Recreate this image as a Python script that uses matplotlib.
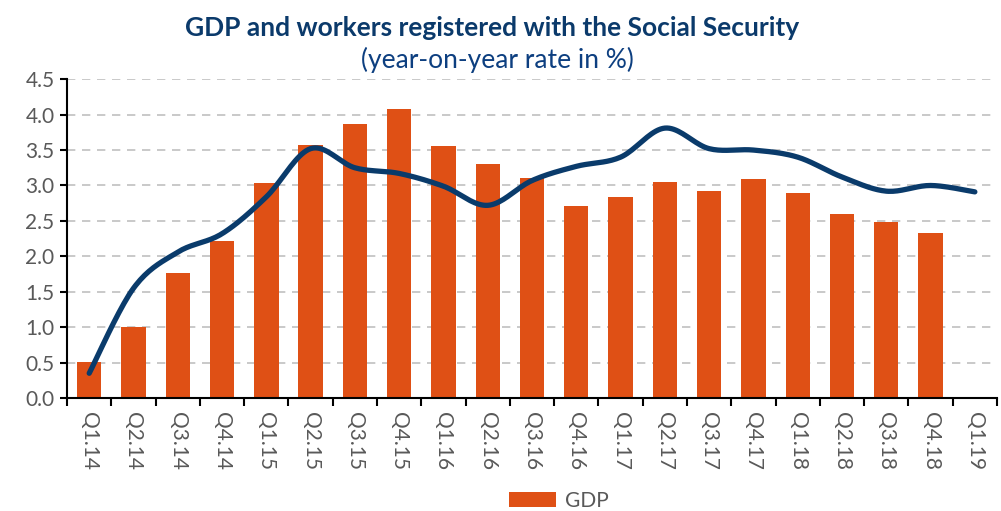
import numpy as np
import matplotlib
matplotlib.use("Agg")
from matplotlib import pyplot as plt

quarters = ["Q1.14", "Q2.14", "Q3.14", "Q4.14", "Q1.15", "Q2.15", "Q3.15", "Q4.15",
            "Q1.16", "Q2.16", "Q3.16", "Q4.16", "Q1.17", "Q2.17", "Q3.17", "Q4.17",
            "Q1.18", "Q2.18", "Q3.18", "Q4.18", "Q1.19"]
# GDP, year-on-year % (no value yet for Q1.19)
gdp = [0.51, 1.0, 1.76, 2.22, 3.03, 3.57, 3.87, 4.08, 3.56, 3.30, 3.11,
       2.71, 2.84, 3.05, 2.92, 3.09, 2.90, 2.60, 2.49, 2.33]
# workers registered with the Social Security, year-on-year %
workers = [0.35, 1.55, 2.06, 2.32, 2.84, 3.52, 3.25, 3.17, 2.99, 2.72, 3.07,
           3.27, 3.40, 3.81, 3.52, 3.50, 3.40, 3.12, 2.92, 3.00, 2.91]
yticks = [0.0, 0.5, 1.0, 1.5, 2.0, 2.5, 3.0, 3.5, 4.0, 4.5]

bar_col = "#DF5015"
line_col = "#0A3B6B"
txt_col = "#595959"


def smooth(x, y, n=20):
    # excel-like smoothed line (catmull-rom through the points)
    x = np.asarray(x, float)
    y = np.asarray(y, float)
    px = np.concatenate([[x[0]], x, [x[-1]]])
    py = np.concatenate([[y[0]], y, [y[-1]]])
    xs, ys = [], []
    for i in range(1, len(px) - 2):
        t = np.linspace(0, 1, n, endpoint=False)
        for p, out in ((px, xs), (py, ys)):
            p0, p1, p2, p3 = p[i - 1], p[i], p[i + 1], p[i + 2]
            out.extend(0.5 * ((2 * p1) + (-p0 + p2) * t +
                              (2 * p0 - 5 * p1 + 4 * p2 - p3) * t ** 2 +
                              (-p0 + 3 * p1 - 3 * p2 + p3) * t ** 3))
    xs.append(x[-1])
    ys.append(y[-1])
    return np.array(xs), np.array(ys)


plt.rcParams['font.family'] = ['Lato', 'DejaVu Sans']
fig = plt.figure(figsize=(10.01, 5.11), dpi=100)
ax = fig.add_axes([0.067, 0.221, 0.929, 0.624])

xpos = np.arange(len(quarters))
ax.bar(xpos[:len(gdp)], gdp, width=0.55, color=bar_col, label="GDP", zorder=2)
sx, sy = smooth(xpos, workers)
ax.plot(sx, sy, color=line_col, lw=3.8, solid_capstyle='round', zorder=3)

ax.set_xlim(-0.5, len(quarters) - 0.5)
ax.set_ylim(0, 4.5)
ax.set_yticks(yticks)
ax.set_yticklabels([f"{v:.1f}" for v in yticks], fontsize=15, color=txt_col)
ax.yaxis.grid(True, color="#C0C0C0", ls=(0, (5, 4)), lw=1.2, zorder=0)
ax.set_axisbelow(True)

ax.set_xticks(xpos)
ax.set_xticklabels(quarters, rotation=270, fontsize=15, color=txt_col)
ax.tick_params(axis='x', which='major', length=0, pad=10)
ax.set_xticks(np.arange(-0.5, len(quarters), 1), minor=True)
ax.tick_params(axis='x', which='minor', length=6, width=1.5, color="black")
ax.tick_params(axis='y', length=5, width=1.5, pad=4)
for s in ("top", "right"):
    ax.spines[s].set_visible(False)
ax.spines["left"].set_linewidth(1.5)
ax.spines["bottom"].set_linewidth(1.5)

fig.text(0.492, 0.945, "GDP and workers registered with the Social Security",
         ha="center", va="center", fontsize=19, fontweight="bold", color="#0B3A6B")
fig.text(0.497, 0.882, "(year-on-year rate in %)", ha="center", va="center",
         fontsize=19, color="#0D3F80")

fig.legend(loc="center", bbox_to_anchor=(0.558, 0.02), frameon=False,
           fontsize=15, labelcolor=txt_col, handlelength=2.3, handleheight=0.7,
           handletextpad=0.4)

fig.savefig("out.png", dpi=100)
